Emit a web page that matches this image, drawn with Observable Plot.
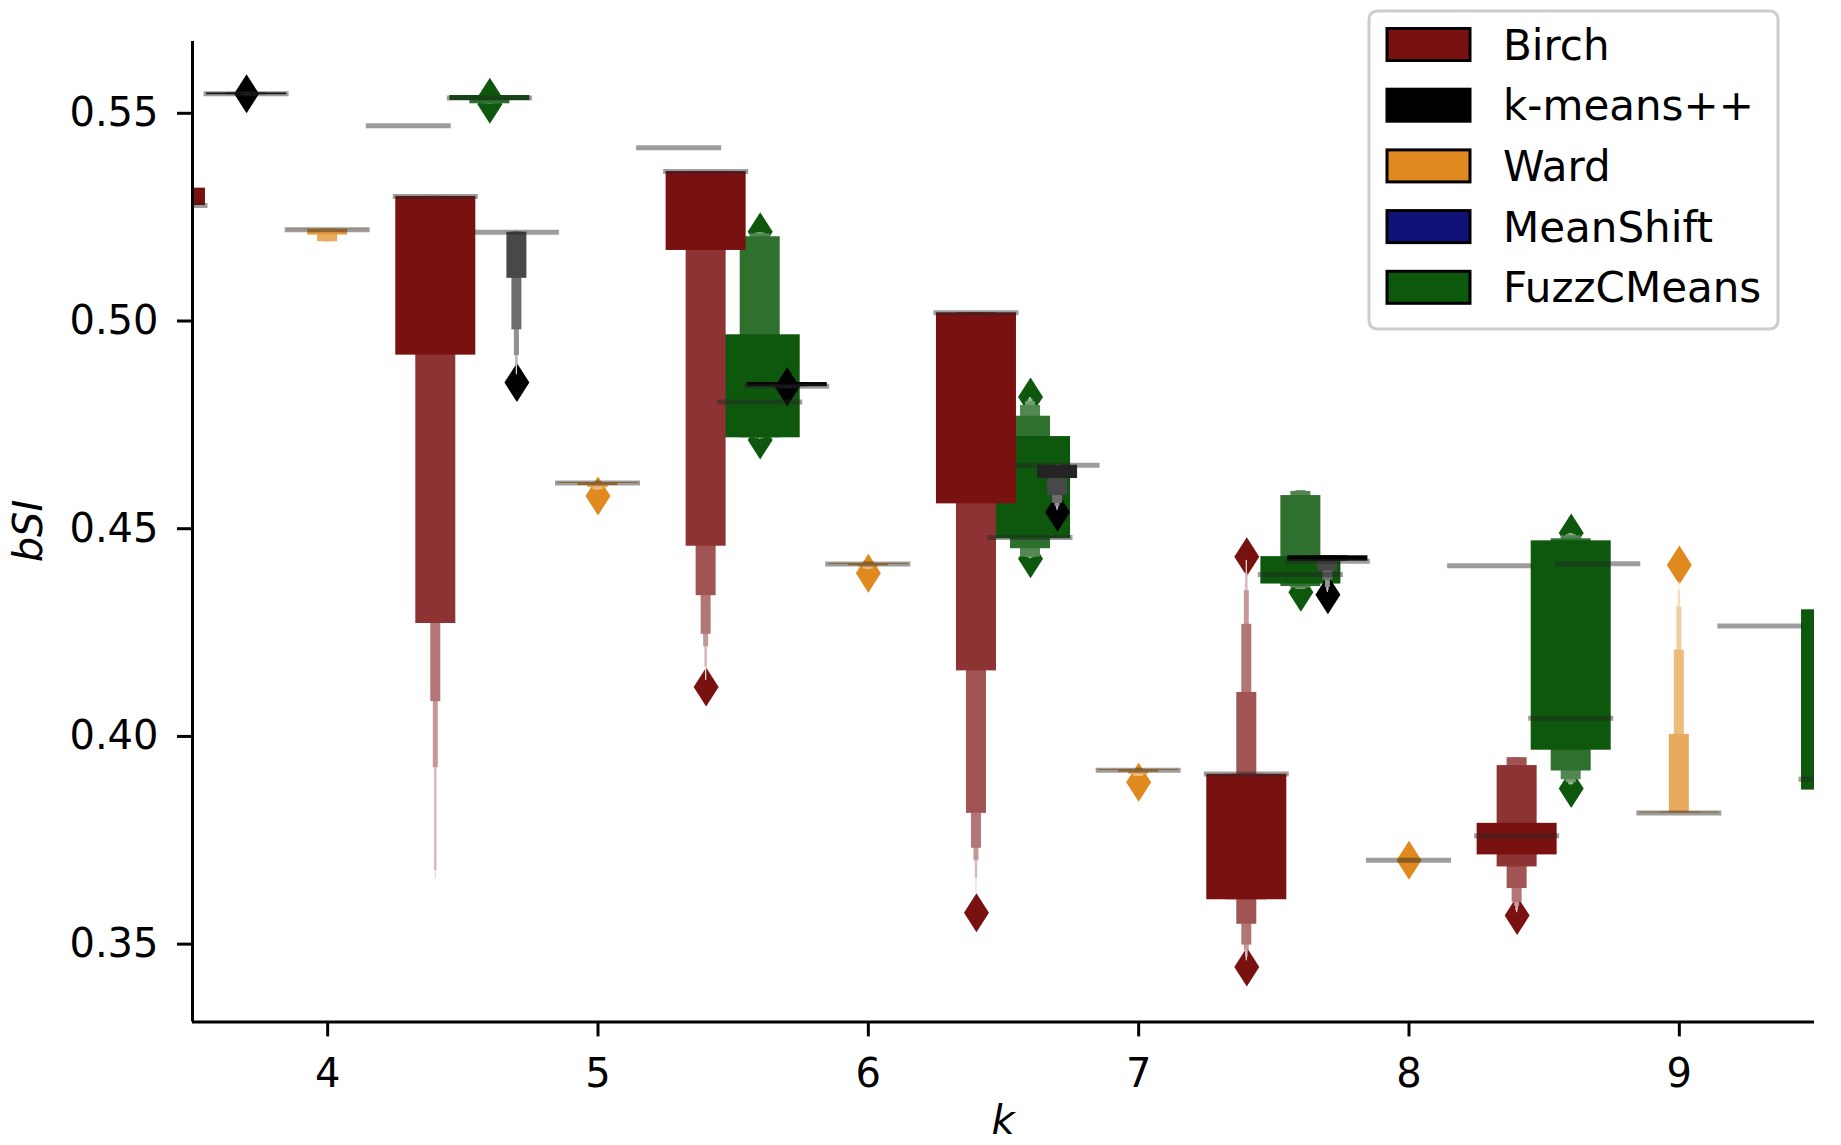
<!DOCTYPE html>
<html><head><meta charset="utf-8">
<script src="https://cdn.jsdelivr.net/npm/d3@7"></script>
<script src="https://cdn.jsdelivr.net/npm/@observablehq/plot@0.6"></script>
<style>body{margin:0;background:#fff}#chart svg{font-family:"DejaVu Sans",sans-serif;display:block}</style>
</head><body><div id="chart"></div><script>
// ---------- data ----------
const kValues = [4, 5, 6, 7, 8, 9];
const methods = ["Birch", "k-means++", "Ward", "MeanShift", "FuzzCMeans"];
const yTicks = [0.35, 0.40, 0.45, 0.50, 0.55];

// letter-value boxes per k: [low, high] from the inner box (25-75%) outward
const birchLevels = [
  [[0.5273,0.5315],[0.5273,0.5315],[0.5273,0.5315],[0.5273,0.5315],[0.5273,0.5315],[0.5273,0.5315],[0.5273,0.5315]],
  [[0.4913,0.5295],[0.4267,0.5295],[0.4267,0.5295],[0.4079,0.5295],[0.3920,0.5295],[0.3672,0.5295],[0.3652,0.5295]],
  [[0.5165,0.5355],[0.4453,0.5355],[0.4334,0.5355],[0.4241,0.5355],[0.4211,0.5355],[0.4162,0.5355],[0.4130,0.5355]],
  [[0.4555,0.5015],[0.4153,0.5015],[0.3810,0.5015],[0.3726,0.5015],[0.3696,0.5015],[0.3653,0.5015],[0.3618,0.5015]],
  [[0.3602,0.3904],[0.3602,0.3904],[0.3543,0.4101],[0.3493,0.4265],[0.3480,0.4346],[0.3464,0.4387],[0.3455,0.4419]],
  [[0.3710,0.3786],[0.3681,0.3925],[0.3629,0.3944],[0.3596,0.3944],[0.3586,0.3944],[0.3576,0.3944],[0.3571,0.3944]]
];
const birchMedian = [0.5273, 0.5295, 0.5355, 0.5015, 0.3905, 0.3756];
const birchOutliers = [[], [], [0.4114], [0.3571], [0.4428, 0.3440], [0.3564]];

const kmeansLevels = [
  [[0.5540,0.5544],[0.5540,0.5544],[0.5540,0.5544],[0.5540,0.5544],[0.5540,0.5544],[0.5540,0.5544],[0.5540,0.5544]],
  [[0.5209,0.5209],[0.5209,0.5209],[0.5098,0.5209],[0.4974,0.5209],[0.4912,0.5209],[0.4887,0.5209],[0.4866,0.5209]],
  [[0.4837,0.4847],[0.4837,0.4847],[0.4837,0.4847],[0.4837,0.4847],[0.4837,0.4847],[0.4837,0.4847],[0.4837,0.4847]],
  [[0.4648,0.4648],[0.4616,0.4648],[0.4575,0.4648],[0.4556,0.4648],[0.4549,0.4648],[0.4544,0.4648],[0.4539,0.4648]],
  [[0.4417,0.4430],[0.4417,0.4430],[0.4393,0.4430],[0.4371,0.4430],[0.4354,0.4430],[0.4347,0.4430],[0.4342,0.4430]],
  [[0.4411,0.4411],[0.4411,0.4411],[0.4411,0.4411],[0.4411,0.4411],[0.4411,0.4411],[0.4411,0.4411],[0.4411,0.4411]]
];
const kmeansMedian = [0.5542, 0.5209, 0.4838, 0.4648, 0.4417, 0.4411];
const kmeansOutliers = [[0.5542], [0.4847], [0.4837], [0.4535], [0.4336], []];

const wardLevels = [
  [[0.5215,0.5216],[0.5202,0.5216],[0.5186,0.5216],[0.5186,0.5216],[0.5186,0.5216],[0.5186,0.5216],[0.5186,0.5216]],
  [[0.4604,0.4606],[0.4599,0.4606],[0.4594,0.4606],[0.4589,0.4606],[0.4589,0.4606],[0.4589,0.4606],[0.4589,0.4606]],
  [[0.4409,0.4411],[0.4406,0.4411],[0.4403,0.4411],[0.4398,0.4411],[0.4398,0.4411],[0.4398,0.4411],[0.4398,0.4411]],
  [[0.3913,0.3915],[0.3909,0.3915],[0.3904,0.3915],[0.3899,0.3915],[0.3899,0.3915],[0.3899,0.3915],[0.3899,0.3915]],
  [[0.3697,0.3697],[0.3697,0.3697],[0.3697,0.3697],[0.3697,0.3697],[0.3697,0.3697],[0.3697,0.3697],[0.3697,0.3697]],
  [[0.3811,0.3813],[0.3811,0.3813],[0.3811,0.4000],[0.3811,0.4203],[0.3811,0.4307],[0.3811,0.4347],[0.3811,0.4366]]
];
const wardMedian = [0.5215, 0.4605, 0.4410, 0.3914, 0.3697, 0.3811];
const wardOutliers = [[], [0.4574], [0.4388], [0.3885], [0.3697], [0.4408]];

const meanshiftMedian = [0.5465, 0.5412, null, null, 0.4406, 0.4261];
const meanshiftOutliers = [[], [], [], [], [], []];

const fuzzLevels = [
  [[0.5526,0.5538],[0.5518,0.5538],[0.5518,0.5538],[0.5518,0.5538],[0.5518,0.5538],[0.5518,0.5538],[0.5518,0.5538]],
  [[0.4714,0.4962],[0.4714,0.5198],[0.4714,0.5205],[0.4712,0.5207],[0.4712,0.5207],[0.4711,0.5208],[0.4711,0.5208]],
  [[0.4471,0.4717],[0.4447,0.4766],[0.4427,0.4792],[0.4426,0.4801],[0.4425,0.4806],[0.4424,0.4809],[0.4423,0.4811]],
  [[0.4362,0.4428],[0.4356,0.4575],[0.4352,0.4585],[0.4349,0.4587],[0.4349,0.4587],[0.4349,0.4587],[0.4349,0.4587]],
  [[0.3962,0.4466],[0.3912,0.4471],[0.3891,0.4478],[0.3884,0.4481],[0.3879,0.4483],[0.3879,0.4483],[0.3879,0.4483]],
  [[0.3866,0.4300],[0.3866,0.4300],[0.3866,0.4300],[0.3866,0.4300],[0.3866,0.4300],[0.3866,0.4300],[0.3866,0.4300]]
];
const fuzzMedian = [0.5532, 0.4800, 0.4474, 0.4385, 0.4039, 0.3892];
const fuzzOutliers = [[0.5534, 0.5517], [0.5210, 0.4709], [0.4812, 0.4423], [0.4342], [0.4485, 0.3870], []];

// ---------- rendering ----------
const offsets = [-0.6, -0.3, 0, 0.3, 0.6];
const baseColors = ["#7a1111", "#000000", "#df891f", "#11117a", "#0d580d"];
const boxWidth = 0.296;
const allLevels = [birchLevels, kmeansLevels, wardLevels, null, fuzzLevels];
const allMedians = [birchMedian, kmeansMedian, wardMedian, meanshiftMedian, fuzzMedian];
const allOutliers = [birchOutliers, kmeansOutliers, wardOutliers, meanshiftOutliers, fuzzOutliers];

const thinDiamond = {
  draw(ctx, size) {
    const r = Math.sqrt(size / Math.PI), w = r * 0.64;
    ctx.moveTo(0, -r); ctx.lineTo(w, 0); ctx.lineTo(0, r); ctx.lineTo(-w, 0); ctx.closePath();
  }
};
const levelColor = (base, j) => d3.interpolateRgb(base, "#ffffff")(0.85 * j / 6);

const marks = [];
const medianRows = [];
kValues.forEach((k, g) => {
  methods.forEach((name, m) => {
    const pos = k + offsets[m];
    const base = baseColors[m];
    const outs = allOutliers[m][g];
    if (outs.length) {
      marks.push(Plot.dot(outs.map(v => ({x: pos, y: v})),
        {x: "x", y: "y", r: 19.5, symbol: thinDiamond, fill: base, stroke: "none", clip: true}));
    }
    const lv = allLevels[m] ? allLevels[m][g] : null;
    if (lv) {
      const rows = [];
      for (let j = lv.length - 1; j >= 0; j--) {
        const w = boxWidth * Math.pow(2, -j);
        rows.push({x1: pos - w / 2, x2: pos + w / 2, y1: lv[j][0], y2: lv[j][1], fill: levelColor(base, j)});
      }
      marks.push(Plot.rect(rows, {x1: "x1", x2: "x2", y1: "y1", y2: "y2", fill: "fill", clip: true}));
    }
    const med = allMedians[m][g];
    if (med != null) medianRows.push({y: med, x1: pos - boxWidth / 2, x2: pos + boxWidth / 2});
  });
});
marks.push(Plot.ruleY(medianRows, {y: "y", x1: "x1", x2: "x2", stroke: "#262626", strokeOpacity: 0.45,
  strokeWidth: 5, strokeLinecap: "square", clip: true}));

const xDomain = [3.5, 9.5], yDomain = [0.3308, 0.5668];
marks.push(
  Plot.ruleX([xDomain[0]], {stroke: "#000", strokeWidth: 3}),
  Plot.ruleY([yDomain[0]], {stroke: "#000", strokeWidth: 3}),
  Plot.axisY({ticks: yTicks, tickFormat: d3.format(".2f"), tickSize: 15, tickPadding: 19, fontSize: 40,
    strokeWidth: 3, label: null, dy: 2}),
  Plot.axisX({ticks: kValues, tickFormat: d => String(d), tickSize: 15, tickPadding: 22, fontSize: 40,
    strokeWidth: 3, label: null})
);

const chart = Plot.plot({
  width: 1841, height: 1145,
  marginLeft: 192, marginRight: 27, marginTop: 41, marginBottom: 123.6,
  x: {type: "linear", domain: xDomain},
  y: {type: "linear", domain: yDomain},
  style: {fontFamily: "DejaVu Sans", fontSize: "40px", color: "#000", background: "#fff"},
  marks
});
document.getElementById("chart").appendChild(chart);

// axis labels
const svg = d3.select(chart);
svg.append("text").attr("x", 1003).attr("y", 1134).attr("text-anchor", "middle")
  .attr("font-size", 40).attr("font-style", "italic").attr("fill", "#000").text("k");
svg.append("text").attr("transform", "translate(42,531) rotate(-90)").attr("text-anchor", "middle")
  .attr("font-size", 40).attr("font-style", "italic").attr("fill", "#000").text("bSI");

// legend
const lg = svg.append("g").attr("text-anchor", "start");
lg.append("rect").attr("x", 1369).attr("y", 11).attr("width", 409).attr("height", 318).attr("rx", 8)
  .attr("fill", "#fff").attr("fill-opacity", 0.8).attr("stroke", "#cccccc").attr("stroke-width", 3);
const rowY = [44.5, 105.2, 165.9, 226.6, 287.3];
methods.forEach((name, i) => {
  lg.append("rect").attr("x", 1387).attr("y", rowY[i] - 16).attr("width", 83).attr("height", 32)
    .attr("fill", baseColors[i]).attr("stroke", "#000").attr("stroke-width", 3);
  lg.append("text").attr("x", 1503).attr("y", rowY[i] + 15).attr("text-anchor", "start")
    .attr("font-size", 42).attr("fill", "#000").text(name);
});
</script></body></html>
